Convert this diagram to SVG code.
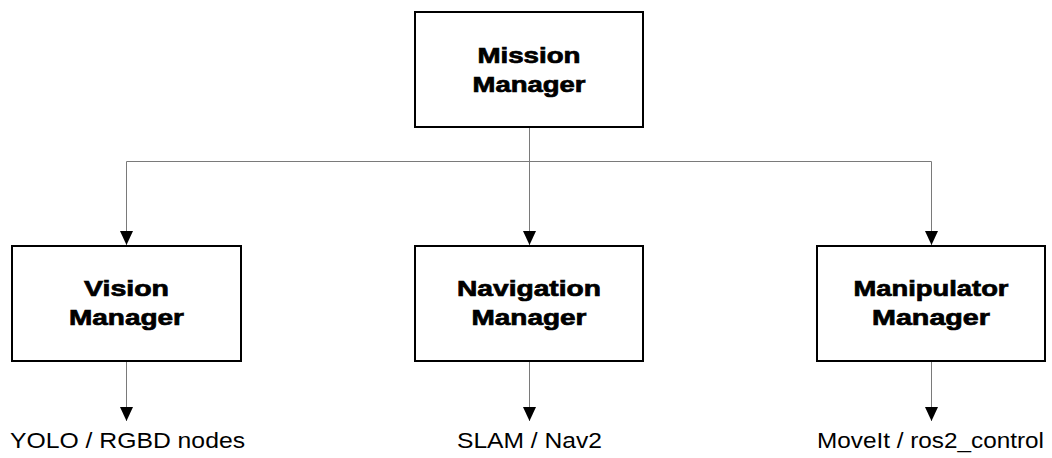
<svg xmlns="http://www.w3.org/2000/svg" width="1052" height="458" viewBox="0 0 1052 458">
  <style>
    .box { fill: #ffffff; stroke: #000000; stroke-width: 2; }
    .title { font-family: "Liberation Sans", Arial, sans-serif; font-weight: bold; font-size: 22px; fill: #000000; stroke: #000000; stroke-width: 0.7; text-anchor: middle; }
    .label { font-family: "Liberation Sans", Arial, sans-serif; font-size: 22px; fill: #000000; text-anchor: middle; }
    .wire { fill: none; stroke: #7a7a7a; stroke-width: 1; }
  </style>
  <defs>
    <marker id="arrow" markerUnits="userSpaceOnUse" markerWidth="15" markerHeight="15" refX="14" refY="7" orient="auto">
      <path d="M0,0.5 L14,7 L0,13.5 Z" fill="#000000"/>
    </marker>
  </defs>
  <rect width="1052" height="458" fill="#ffffff"/>

  <!-- connectors -->
  <g id="connectors">
    <path class="wire" d="M529.5,128 V161.5"/>
    <path class="wire" d="M126.5,161.5 H931.5"/>
    <path class="wire" d="M126.5,161.5 V245" marker-end="url(#arrow)"/>
    <path class="wire" d="M529.5,161.5 V245" marker-end="url(#arrow)"/>
    <path class="wire" d="M931.5,161.5 V245" marker-end="url(#arrow)"/>
    <path class="wire" d="M126.5,362 V421" marker-end="url(#arrow)"/>
    <path class="wire" d="M529.5,362 V421" marker-end="url(#arrow)"/>
    <path class="wire" d="M931.5,362 V421" marker-end="url(#arrow)"/>
  </g>

  <!-- top-level coordinator -->
  <g id="mission-manager">
    <rect class="box" x="415" y="12" width="228" height="115"/>
    <text class="title" x="529" y="63" textLength="103" lengthAdjust="spacingAndGlyphs">Mission</text>
    <text class="title" x="529" y="92" textLength="113" lengthAdjust="spacingAndGlyphs">Manager</text>
  </g>

  <g id="vision-manager">
    <rect class="box" x="12" y="246" width="229" height="115"/>
    <text class="title" x="126.5" y="296" textLength="85" lengthAdjust="spacingAndGlyphs">Vision</text>
    <text class="title" x="126.5" y="325" textLength="115" lengthAdjust="spacingAndGlyphs">Manager</text>
  </g>

  <g id="navigation-manager">
    <rect class="box" x="415" y="246" width="228" height="115"/>
    <text class="title" x="529" y="296" textLength="144" lengthAdjust="spacingAndGlyphs">Navigation</text>
    <text class="title" x="529" y="325" textLength="115" lengthAdjust="spacingAndGlyphs">Manager</text>
  </g>

  <g id="manipulator-manager">
    <rect class="box" x="817" y="246" width="228" height="115"/>
    <text class="title" x="931" y="296" textLength="155" lengthAdjust="spacingAndGlyphs">Manipulator</text>
    <text class="title" x="931" y="325" textLength="118" lengthAdjust="spacingAndGlyphs">Manager</text>
  </g>

  <!-- downstream subsystems -->
  <g id="vision-backend">
    <text class="label" x="127.5" y="448" textLength="235" lengthAdjust="spacingAndGlyphs">YOLO / RGBD nodes</text>
  </g>
  <g id="navigation-backend">
    <text class="label" x="529.5" y="448" textLength="145" lengthAdjust="spacingAndGlyphs">SLAM / Nav2</text>
  </g>
  <g id="manipulator-backend">
    <text class="label" x="930.5" y="448" textLength="227" lengthAdjust="spacingAndGlyphs">MoveIt / ros2_control</text>
  </g>
</svg>
